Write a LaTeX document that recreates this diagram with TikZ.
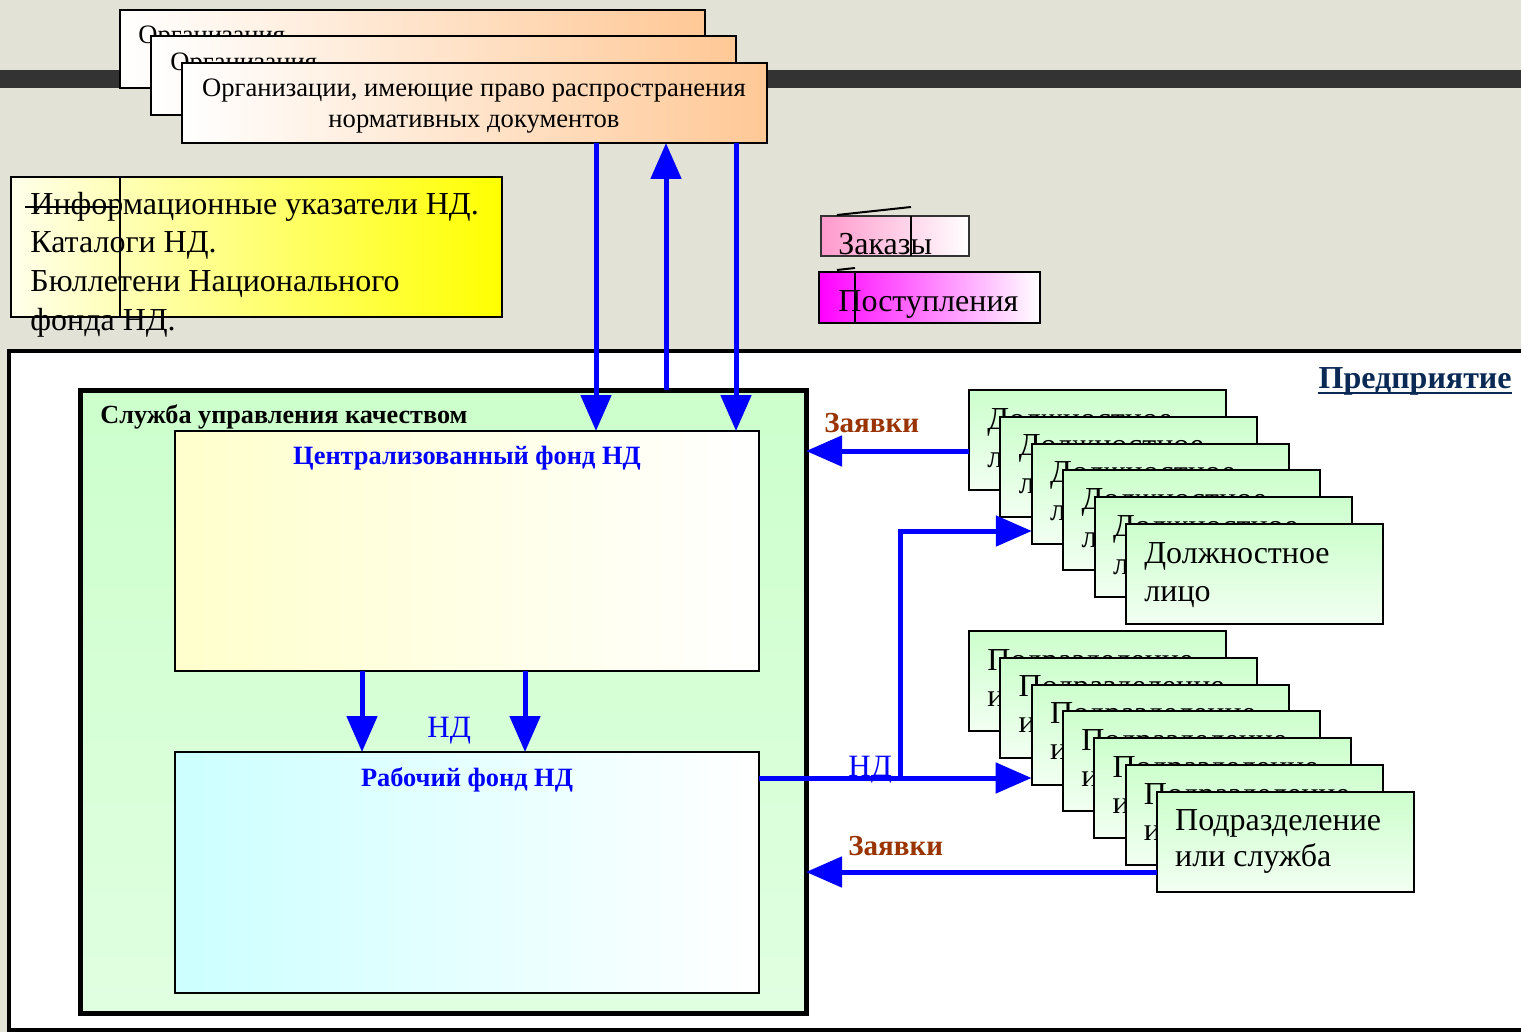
\documentclass[tikz,border=0pt]{standalone}
\usepackage{fontspec}
\setmainfont{Liberation Serif}
\usetikzlibrary{arrows.meta,calc}
\definecolor{bg}{HTML}{E2E2D6}
\definecolor{bar}{HTML}{333333}
\definecolor{peach}{HTML}{FFC896}
\definecolor{pinkz}{HTML}{FF99CC}
\definecolor{magp}{HTML}{FF00FF}
\definecolor{lgreen}{HTML}{CCFFCC}
\definecolor{lyel}{HTML}{FFFFCC}
\definecolor{lcyan}{HTML}{CCFFFF}
\definecolor{brownred}{HTML}{993300}
\definecolor{navy}{HTML}{0A2A55}
\begin{document}
\begin{tikzpicture}[x=0.5pt,y=-0.5pt,
  pxbox/.style 2 args={minimum width=#1*0.5pt,minimum height=#2*0.5pt,inner sep=0pt,outer sep=0pt,anchor=north west},
  orgbox/.style={draw=black,line width=1pt,left color=white,right color=peach},
  stackbox/.style={draw=black,line width=1pt,top color=lgreen,bottom color=lgreen!25!white},
  txt/.style={inner sep=0pt,anchor=base west},
  arr/.style={draw=blue,line width=2.5pt,-{Triangle[length=18pt,width=15pt]}},
  bluebold/.style={inner sep=0pt,anchor=base,text=blue,font=\fontsize{13.2pt}{16pt}\selectfont\bfseries},
  zlabel/.style={inner sep=0pt,anchor=base west,text=brownred,font=\fontsize{14.5pt}{16pt}\selectfont\bfseries},
  ndlabel/.style={inner sep=0pt,anchor=base west,text=blue,font=\fontsize{15.5pt}{17pt}\selectfont},
  bigtxt/.style={inner sep=0pt,anchor=base west,font=\fontsize{16pt}{19pt}\selectfont},
  orgfont/.style={font=\fontsize{13.3pt}{16pt}\selectfont}
]
\useasboundingbox (0,0) rectangle (1521,1032);
\fill[bg] (0,0) rectangle (1521,1032);
\fill[bar] (0,70) rectangle (1521,88);

% organisations stack
\node[pxbox={585}{78},orgbox] (org1) at (120,10) {};
\node[txt,orgfont] (orgt1) at (138,44) {Организация};
\node[pxbox={585}{79},orgbox] (org2) at (151,36) {};
\node[txt,orgfont] (orgt2) at (170,71) {Организация};
\node[pxbox={585}{80},orgbox] (org3) at (182,63) {};
\node[inner sep=0pt,anchor=base,orgfont] (orgt3a) at (474,97) {Организации, имеющие право распространения};
\node[inner sep=0pt,anchor=base,orgfont] (orgt3b) at (474,128) {нормативных документов};

% yellow box
\node[pxbox={491}{140},draw=black,line width=1pt,left color=yellow!8!white,right color=yellow] (info) at (11,177) {};
\draw[line width=1pt] (120,177) -- (120,317);
\node[bigtxt] (info1) at (30,215) {Информационные указатели НД.};
\node[bigtxt] (info2) at (30,253) {Каталоги НД.};
\node[bigtxt] (info3) at (30,292) {Бюллетени Национального};
\node[bigtxt] (info4) at (30,330) {фонда НД.};
\draw[line width=1pt] (25,207) -- (118,207);

% legend boxes
\node[pxbox={148}{40},draw=black!80,line width=1pt,left color=pinkz,right color=white] (zak) at (821,216) {};
\draw[line width=1pt] (911,216) -- (911,256);
\draw[line width=1pt] (837,215) -- (911,207);
\node[bigtxt] (zakt) at (838,255) {Заказы};
\node[pxbox={221}{51},draw=black,line width=1pt,left color=magp,right color=white] (post) at (819,272) {};
\draw[line width=1pt] (855,272) -- (855,323);
\draw[line width=1pt] (837,270) -- (855,268);
\node[bigtxt] (postt) at (838,312) {Поступления};

% enterprise
\filldraw[fill=white,draw=black,line width=2pt] (1530,351) -- (9,351) -- (9,1030) -- (1530,1030);
\node[inner sep=0pt,anchor=base east,text=navy,font=\fontsize{16pt}{18pt}\selectfont\bfseries] (entt) at (1512,388) {Предприятие};
\draw[navy,line width=1.2pt] ($(entt.base west)+(0,5)$) -- ($(entt.base east)+(0,5)$);

% quality service
\node[pxbox={726}{623},draw=black,line width=2.5pt,top color=lgreen,bottom color=lgreen!60!white] (svc) at (80,390) {};
\node[txt,font=\fontsize{13.1pt}{16pt}\selectfont\bfseries] (svct) at (100,423) {Служба управления качеством};

\node[pxbox={584}{240},draw=black,line width=1pt,left color=lyel,right color=white] (cfund) at (175,431) {};
\node[bluebold] (cfundt) at (467,464) {Централизованный фонд НД};
\node[pxbox={584}{241},draw=black,line width=1pt,left color=lcyan,right color=white] (wfund) at (175,752) {};
\node[bluebold] (wfundt) at (467,786) {Рабочий фонд НД};

% officials stack
\foreach \i in {1,...,6}{
  \pgfmathsetmacro\xx{969+(\i-1)*31.4}
  \pgfmathsetmacro\yy{390+(\i-1)*26.8}
  \node[pxbox={257}{100},stackbox] (dol\i) at (\xx,\yy) {};
  \node[bigtxt] (dolta\i) at (\xx+18,\yy+39) {Должностное};
  \node[bigtxt] (doltb\i) at (\xx+18,\yy+77) {лицо};
}
% subdivisions stack
\foreach \i in {1,...,7}{
  \pgfmathsetmacro\xx{969+(\i-1)*31.3}
  \pgfmathsetmacro\yy{631+(\i-1)*26.8}
  \node[pxbox={257}{100},stackbox] (sub\i) at (\xx,\yy) {};
  \node[bigtxt] (subta\i) at (\xx+18,\yy+39) {Подразделение};
  \node[bigtxt] (subtb\i) at (\xx+18,\yy+75) {или служба};
}

% arrows top
\draw[arr] (596,0 |- org3.south) -- (596,0 |- cfund.north);
\draw[arr] (666,0 |- svc.north) -- (666,0 |- org3.south);
\draw[arr] (736,0 |- org3.south) -- (736,0 |- cfund.north);
% central -> working
\draw[arr] (362,0 |- cfund.south) -- (362,0 |- wfund.north);
\draw[arr] (525,0 |- cfund.south) -- (525,0 |- wfund.north);
\node[ndlabel] (nd1) at (427,737) {НД};
% working -> subdivisions / officials
\coordinate (split) at (900,778);
\draw[arr] (wfund.east |- 0,778) -- (sub3.west |- 0,778);
\draw[arr] (split) -- (900,531) -- (dol3.west |- 0,531);
\node[ndlabel] (nd2) at (848,776) {НД};
% requests
\draw[arr] (dol1.west |- 0,451) -- (svc.east |- 0,451);
\node[zlabel] (z1) at (824,432) {Заявки};
\draw[arr] (sub7.west |- 0,872) -- (svc.east |- 0,872);
\node[zlabel] (z2) at (848,855) {Заявки};
\end{tikzpicture}
\end{document}
